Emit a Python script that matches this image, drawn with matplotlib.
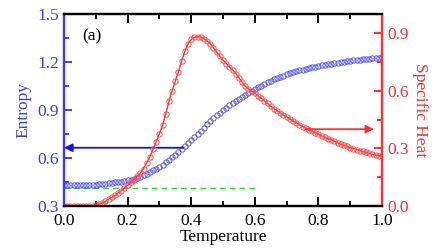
import numpy as np
import matplotlib
matplotlib.use('Agg')
import matplotlib.pyplot as plt
from matplotlib.ticker import MultipleLocator

plt.rcParams['font.family'] = 'Liberation Serif'
plt.rcParams['font.size'] = 12.5

# %% data
temperature = [i / 100 for i in range(101)]

entropy = [
    0.430, 0.430, 0.430, 0.430, 0.430, 0.430, 0.430, 0.430, 0.431, 0.432,
    0.433, 0.435, 0.437, 0.439, 0.441, 0.444, 0.447, 0.450, 0.453, 0.457,
    0.461, 0.465, 0.470, 0.476, 0.483, 0.491, 0.500, 0.511, 0.522, 0.534,
    0.546, 0.559, 0.573, 0.588, 0.604, 0.620, 0.637, 0.654, 0.672, 0.691,
    0.710, 0.730, 0.750, 0.770, 0.790, 0.810, 0.829, 0.848, 0.866, 0.883,
    0.899, 0.914, 0.929, 0.943, 0.957, 0.970, 0.983, 0.995, 1.007, 1.019,
    1.031, 1.042, 1.053, 1.064, 1.074, 1.083, 1.092, 1.100, 1.108, 1.115,
    1.122, 1.129, 1.135, 1.141, 1.147, 1.152, 1.157, 1.162, 1.167, 1.171,
    1.175, 1.179, 1.183, 1.187, 1.190, 1.193, 1.196, 1.199, 1.202, 1.205,
    1.207, 1.210, 1.212, 1.214, 1.217, 1.219, 1.221, 1.223, 1.225, 1.227,
    1.229,
]

specific_heat = [
    0.000, 0.000, 0.000, 0.000, 0.000, 0.000, 0.000, 0.000, 0.001, 0.002,
    0.004, 0.008, 0.014, 0.024, 0.035, 0.045, 0.055, 0.067, 0.080, 0.094,
    0.108, 0.123, 0.138, 0.155, 0.172, 0.195, 0.225, 0.257, 0.295, 0.335,
    0.375, 0.420, 0.480, 0.545, 0.600, 0.650, 0.700, 0.755, 0.805, 0.845,
    0.868, 0.878, 0.882, 0.880, 0.872, 0.860, 0.845, 0.825, 0.800, 0.780,
    0.760, 0.742, 0.725, 0.710, 0.690, 0.668, 0.645, 0.625, 0.610, 0.598,
    0.587, 0.575, 0.561, 0.547, 0.534, 0.520, 0.507, 0.496, 0.485, 0.474,
    0.464, 0.454, 0.444, 0.434, 0.424, 0.414, 0.406, 0.398, 0.389, 0.381,
    0.373, 0.366, 0.358, 0.351, 0.344, 0.337, 0.330, 0.322, 0.316, 0.310,
    0.304, 0.299, 0.294, 0.289, 0.284, 0.279, 0.274, 0.270, 0.266, 0.262,
    0.258,
]

ground_entropy = 0.415     # green dashed reference level
ground_span = [0.0, 0.6]

blue = '#3b3bff'
red = '#ff3030'

# %% plot
fig = plt.figure(figsize=(4.36, 2.49), dpi=100)
ax = fig.add_axes([0.1468, 0.1727, 0.7294, 0.7711])
ax2 = ax.twinx()

ax.plot(ground_span, [ground_entropy, ground_entropy], ls=(0, (4, 3)),
        color='#22dd22', lw=1.0)
ax.plot(temperature, entropy, 'o', ms=3.8, mfc='none', mec='#5555ff', mew=0.7)
ax2.plot(temperature, specific_heat, '-o', color=red, lw=1.0, ms=3.8,
         mfc='none', mec='#ff5050', mew=0.7)

ax.annotate('', xy=(0.0, 0.664), xytext=(0.375, 0.664),
            arrowprops=dict(arrowstyle='-|>', color='#1010ee', lw=1.3,
                            mutation_scale=12, shrinkA=0, shrinkB=0))
ax2.annotate('', xy=(0.975, 0.40), xytext=(0.76, 0.40),
             arrowprops=dict(arrowstyle='-|>', color=red, lw=1.3,
                             mutation_scale=12, shrinkA=0, shrinkB=0))

ax.xaxis.set_major_locator(MultipleLocator(0.2))
ax.xaxis.set_minor_locator(MultipleLocator(0.1))
ax.yaxis.set_minor_locator(MultipleLocator(0.15))
ax2.yaxis.set_minor_locator(MultipleLocator(0.15))
ax.set_xticks([0.0, 0.2, 0.4, 0.6, 0.8, 1.0])
ax.set_xticklabels(['0.0', '0.2', '0.4', '0.6', '0.8', '1.0'])
ax.set_yticks([0.3, 0.6, 0.9, 1.2, 1.5])
ax.set_yticklabels(['0.3', '0.6', '0.9', '1.2', '1.5'])
ax2.set_yticks([0.0, 0.3, 0.6, 0.9])
ax2.set_yticklabels(['0.0', '0.3', '0.6', '0.9'])
ax.set_xlim(0, 1.0)
ax.set_ylim(0.3, 1.5)
ax2.set_ylim(0, 1.0)

ax.tick_params(axis='x', which='both', direction='in', top=True, width=1.4,
               color='k', pad=5)
ax.tick_params(axis='x', which='major', length=6.5)
ax.tick_params(axis='x', which='minor', length=3.5)
ax.tick_params(axis='y', which='both', direction='in', colors=blue,
               width=1.4, right=False)
ax.tick_params(axis='y', which='major', length=5.5)
ax.tick_params(axis='y', which='minor', length=3.5)
ax2.tick_params(axis='y', which='both', direction='in', colors=red,
                width=1.4)
ax2.tick_params(axis='y', which='major', length=5.5)
ax2.tick_params(axis='y', which='minor', length=3.5)

for a in (ax, ax2):
    for s in a.spines.values():
        s.set_linewidth(1.6)
    a.spines['left'].set_color(blue)
    a.spines['right'].set_color(red)

ax.set_xlabel('Temperature', labelpad=0)
ax.set_ylabel('Entropy', color=blue, labelpad=4)
ax2.set_ylabel('Specific Heat', color=red, rotation=270, labelpad=14)
ax.text(0.088, 0.885, '(a)', transform=ax.transAxes, ha='center', va='center')

fig.savefig('out.png', dpi=100)
